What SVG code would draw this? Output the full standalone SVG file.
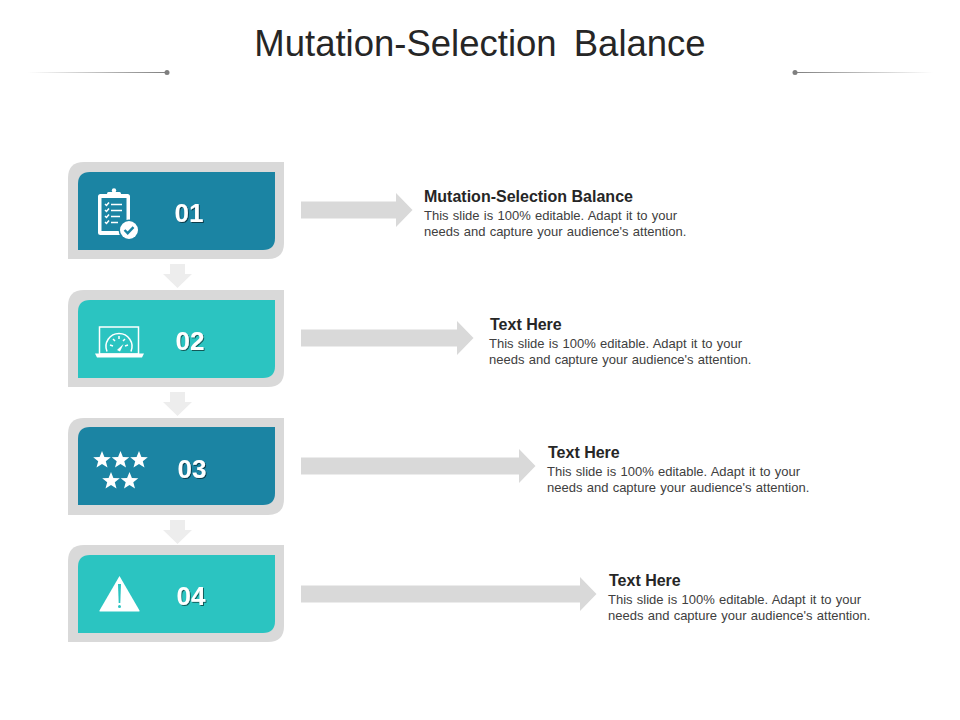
<svg xmlns="http://www.w3.org/2000/svg" width="960" height="720" viewBox="0 0 960 720">
<style>
text{font-family:"Liberation Sans",Arial,sans-serif}
.title{font-size:36.500px;fill:#262626;text-anchor:middle;word-spacing:7px}
.num{font-size:26px;font-weight:bold;fill:#fff;text-anchor:middle;filter:url(#ts)}
.head{font-size:16px;font-weight:bold;fill:#262626}
.body{font-size:13px;fill:#404040;word-spacing:.65px}
.outer{fill:#d9d9d9}
.dark{fill:#1b84a3}
.light{fill:#2bc4c1}
.arrow{fill:#d9d9d9}
.down{fill:#ededed}
.ico{fill:#fff}
.icl{fill:none;stroke:#fff;stroke-width:1.5}
</style>
<defs>
<filter id="ts" x="-20%" y="-20%" width="150%" height="150%"><feDropShadow dx="1" dy="1" stdDeviation="0.6" flood-color="#000" flood-opacity="0.55"/></filter>
<linearGradient id="gl" x1="0" x2="1" y1="0" y2="0"><stop offset="0" stop-color="#7f7f7f" stop-opacity="0"/><stop offset="1" stop-color="#7f7f7f"/></linearGradient>
<linearGradient id="gr" x1="0" x2="1" y1="0" y2="0"><stop offset="0" stop-color="#7f7f7f"/><stop offset="1" stop-color="#7f7f7f" stop-opacity="0"/></linearGradient>
<path id="card-o" d="M0 97V16Q0 0 16 0H216V81Q216 97 200 97Z"/>
<path id="card-i" d="M0 78V12Q0 0 12 0H197V66Q197 78 185 78Z"/>
<polygon id="star" points="0,-9 2.400,-3 8.800,-2.800 3.800,1.200 5.500,7.400 0,3.900 -5.500,7.400 -3.800,1.200 -8.800,-2.800 -2.400,-3"/>
</defs>
<rect width="960" height="720" fill="#fff"/>
<g id="header">
<text class="title" x="480" y="56">Mutation-Selection Balance</text>
<rect x="28" y="72" width="139" height="1" fill="url(#gl)"/>
<circle cx="167" cy="72.500" r="2.500" fill="#7f7f7f"/>
<rect x="795" y="72" width="138" height="1" fill="url(#gr)"/>
<circle cx="795" cy="72.500" r="2.500" fill="#7f7f7f"/>
</g>
<g id="connectors">
<polygon class="down" points="170,264 185,264 185,274 192,274 177.500,288 163,274 170,274"/>
<polygon class="down" points="170,392 185,392 185,402 192,402 177.500,416 163,402 170,402"/>
<polygon class="down" points="170,520 185,520 185,530 192,530 177.500,544 163,530 170,530"/>
<polygon class="arrow" points="301,201.500 396,201.500 396,193 412.500,210 396,227 396,218.500 301,218.500"/>
<polygon class="arrow" points="301,329.500 457,329.500 457,321 473.500,338 457,355 457,346.500 301,346.500"/>
<polygon class="arrow" points="301,457.500 519,457.500 519,449 535.500,466 519,483 519,474.500 301,474.500"/>
<polygon class="arrow" points="301,585.500 580,585.500 580,577 596.500,594 580,611 580,602.500 301,602.500"/>
</g>
<g id="node-01">
<use href="#card-o" class="outer" x="68" y="162"/>
<use href="#card-i" class="dark" x="78" y="172"/>
<g id="icon-01">
<rect x="98" y="194" width="32" height="41" rx="2.500" class="ico"/>
<rect x="101.500" y="198" width="25" height="33" fill="#1b84a3"/>
<rect x="107" y="192" width="14" height="5.500" rx="1.500" class="ico"/>
<circle cx="114" cy="190.500" r="2.200" class="ico"/>
<g fill="none" stroke="#fff" stroke-width="1.500">
<path d="M105 204l1.500 1.500 2.500-3M105 210l1.500 1.500 2.500-3M105 216l1.500 1.500 2.500-3M105 222l1.500 1.500 2.500-3"/>
<path d="M111 204.500h11M111 210.500h11M111 216.500h9M111 222.500h7"/>
</g>
<circle cx="129" cy="230" r="10.500" fill="#1b84a3"/>
<circle cx="129" cy="230" r="9" class="ico"/>
<path d="M124.500 230l3.200 3.200 5.800-6" fill="none" stroke="#1b84a3" stroke-width="2.400"/>
</g>
<text class="num" x="189" y="222">01</text>
</g>
<g id="node-02">
<use href="#card-o" class="outer" x="68" y="290"/>
<use href="#card-i" class="light" x="78" y="300"/>
<g id="icon-02">
<rect x="99.500" y="327" width="39" height="27" class="icl"/>
<path d="M95 353.500H144L142 357.500H97Z" class="ico"/>
<path d="M107 351.500A13 13 0 1 1 131 351.500" class="icl" stroke-width="1.200"/>
<path d="M110 345l3 1M128 345l-3 1M113 339l2 2M125 339l-2 2M119 336v3" class="icl" stroke-width="1"/>
<path d="M117 350l6.500-6-3.500 7.500Z" class="ico"/>
</g>
<text class="num" x="190" y="350">02</text>
</g>
<g id="node-03">
<use href="#card-o" class="outer" x="68" y="418"/>
<use href="#card-i" class="dark" x="78" y="427"/>
<g id="icon-03">
<use href="#star" class="ico" x="102" y="460"/>
<use href="#star" class="ico" x="120.500" y="460"/>
<use href="#star" class="ico" x="139" y="460"/>
<use href="#star" class="ico" x="111" y="481"/>
<use href="#star" class="ico" x="129.500" y="481"/>
</g>
<text class="num" x="192" y="478">03</text>
</g>
<g id="node-04">
<use href="#card-o" class="outer" x="68" y="545"/>
<use href="#card-i" class="light" x="78" y="555"/>
<g id="icon-04">
<path d="M119.500 576L139.500 610.500Q140 611.500 139 611.500H100Q99 611.500 99.500 610.500Z" class="ico"/>
<path d="M118 584h3l-.7 19h-1.600Z" fill="#2bc4c1"/>
<circle cx="119.500" cy="606.500" r="1.500" fill="#2bc4c1"/>
</g>
<text class="num" x="191" y="605">04</text>
</g>
<g id="text-01">
<text class="head" x="424" y="202">Mutation-Selection Balance</text>
<text class="body" x="424" y="220">This slide is 100% editable. Adapt it to your</text>
<text class="body" x="424" y="236">needs and capture your audience's attention.</text>
</g>
<g id="text-02">
<text class="head" x="490" y="330">Text Here</text>
<text class="body" x="489" y="348">This slide is 100% editable. Adapt it to your</text>
<text class="body" x="489" y="364">needs and capture your audience's attention.</text>
</g>
<g id="text-03">
<text class="head" x="548" y="458">Text Here</text>
<text class="body" x="547" y="476">This slide is 100% editable. Adapt it to your</text>
<text class="body" x="547" y="492">needs and capture your audience's attention.</text>
</g>
<g id="text-04">
<text class="head" x="609" y="586">Text Here</text>
<text class="body" x="608" y="604">This slide is 100% editable. Adapt it to your</text>
<text class="body" x="608" y="620">needs and capture your audience's attention.</text>
</g>
</svg>
